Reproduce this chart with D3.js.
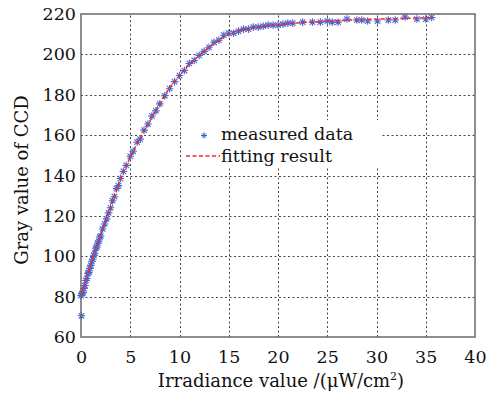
<!DOCTYPE html>
<html>
<head>
<meta charset="utf-8">
<script src="https://cdn.jsdelivr.net/npm/d3@7"></script>
<style>
  body { margin: 0; background: #fff; }
  svg text { font-family: "DejaVu Serif", "Liberation Serif", serif; fill: #111; }
</style>
</head>
<body>
<div id="chart"></div>
<script>
// measured points
const measX = [0, 0.05, 0.1, 0.2, 0.3, 0.4, 0.5, 0.6, 0.7, 0.8, 0.9, 1.0, 1.1, 1.2, 1.3, 1.4, 1.5, 1.6, 1.7, 1.8, 1.9, 2.0,
    2.2, 2.4, 2.6, 2.8, 3.0, 3.2, 3.4, 3.6, 3.8, 4.0, 4.3, 4.6, 5.0, 5.3, 5.7, 6.0, 6.4, 6.8, 7.2, 7.6, 8.0, 8.5,
    9.0, 9.5, 10.0, 10.5, 11.0, 11.5, 12.0, 12.5, 13.0, 13.5, 14.0, 14.5, 15.0, 15.5, 16.0, 16.5, 17.0, 17.5, 18.0,
    18.5, 19.0, 19.5, 20.0, 20.5, 21.0, 21.5, 22.5, 23.5, 24.3, 25.0, 25.5, 26.1, 27.0, 28.0, 28.5, 29.1, 30.1,
    31.2, 31.9, 32.9, 34.1, 35.0, 35.6];
const measY = [80.5, 70.5, 81.5, 82, 84, 85.5, 88, 89, 91.5, 92, 94, 95.5, 97.5, 98.5, 100.5, 101.5, 104, 104.5, 106.5, 107.5, 109.5, 110,
    113.5, 116, 118.5, 121.5, 124, 127.5, 129.5, 133.5, 135, 138.5, 142, 145, 149.5, 152, 156.5, 158, 162.5, 165.5, 169.5, 172, 175.5, 179.5,
    183, 186.5, 189.5, 192, 195.5, 197, 199.5, 201.5, 203.5, 206, 207, 209.5, 210.5, 210.5, 211.5, 212.5, 212.5, 213.5, 213.5,
    214, 214.5, 214.5, 214.5, 215, 215.5, 215.5, 216, 216, 216, 216.5, 216, 216, 217.5, 217, 217, 216.5, 216.5,
    217, 217, 218.5, 217.5, 217.5, 218.3];

// fitted curve
const fitX = [0, 0.5, 1, 1.5, 2, 2.5, 3, 3.5, 4, 4.5, 5, 5.5, 6, 6.5, 7, 7.5, 8, 8.5, 9, 9.5, 10, 10.5, 11, 11.5, 12,
    12.5, 13, 13.5, 14, 14.5, 15, 16, 17, 18, 19, 20, 22, 24, 26, 28, 30, 32, 34, 35.6];
const fitY = [80, 88, 96, 103.5, 110.5, 117.5, 124.5, 131.5, 138, 144, 149, 154, 158.5, 163, 167, 171.5, 175.5, 179.5, 183.5, 186.5, 189.5, 192.5, 195, 197.3, 199.5,
    201.5, 203.5, 205.3, 207, 208.5, 210, 211.8, 212.8, 213.6, 214.2, 214.7, 215.6, 216.2, 216.7, 217.1, 217.4, 217.7, 218, 218.2];

const xTicks = [0, 5, 10, 15, 20, 25, 30, 35, 40];
const yTicks = [60, 80, 100, 120, 140, 160, 180, 200, 220];

const width = 502, height = 396;
const margin = { top: 14, right: 27, bottom: 59, left: 81 };

const svg = d3.select('#chart')
    .append('svg')
    .attr('width', width)
    .attr('height', height);

const x = d3.scaleLinear().domain([0, 40]).range([margin.left, width - margin.right]);
const y = d3.scaleLinear().domain([60, 220]).range([height - margin.bottom, margin.top]);

// grid
const grid = svg.append('g')
    .attr('stroke', '#444')
    .attr('stroke-width', 1)
    .attr('stroke-dasharray', '2,2.5');

grid.selectAll('.gx')
    .data(xTicks.slice(1, -1))
    .enter()
    .append('line')
    .attr('x1', d => Math.round(x(d)) + 0.5)
    .attr('x2', d => Math.round(x(d)) + 0.5)
    .attr('y1', y(60))
    .attr('y2', y(220));

grid.selectAll('.gy')
    .data(yTicks.slice(1, -1))
    .enter()
    .append('line')
    .attr('y1', d => Math.round(y(d)) + 0.5)
    .attr('y2', d => Math.round(y(d)) + 0.5)
    .attr('x1', x(0))
    .attr('x2', x(40));

// axes (labels only, box drawn separately)
const xAxis = svg.append('g')
    .attr('transform', `translate(0,${y(60)})`)
    .call(d3.axisBottom(x).tickValues(xTicks).tickSize(0).tickPadding(14));
const yAxis = svg.append('g')
    .attr('transform', `translate(${x(0)},0)`)
    .call(d3.axisLeft(y).tickValues(yTicks).tickSize(0).tickPadding(5));

[xAxis, yAxis].forEach(a => {
    a.select('.domain').remove();
    a.selectAll('text')
        .style('font-family', '"DejaVu Serif", serif')
        .style('font-size', '17.5px')
        .attr('fill', '#111');
});

// legend background
const legend = svg.append('g');
legend.append('rect')
    .attr('x', 181)
    .attr('y', 120)
    .attr('width', 200)
    .attr('height', 47)
    .attr('fill', '#fff');

// star markers
function star(s) {
    return `M${-s},0L${s},0M0,${-s}L0,${s}M${-s * 0.72},${-s * 0.72}L${s * 0.72},${s * 0.72}M${-s * 0.72},${s * 0.72}L${s * 0.72},${-s * 0.72}`;
}

const pts = d3.range(measX.length).map(i => [measX[i], measY[i]]);

svg.append('g')
    .selectAll('path')
    .data(pts)
    .enter()
    .append('path')
    .attr('transform', d => `translate(${x(d[0])},${y(d[1])})`)
    .attr('d', star(3.8))
    .attr('stroke', '#4a68d0')
    .attr('stroke-width', 1.1)
    .attr('fill', 'none');

// fitted line
const line = d3.line()
    .x((d, i) => x(fitX[i]))
    .y((d, i) => y(fitY[i]))
    .curve(d3.curveMonotoneX);

svg.append('path')
    .datum(fitX)
    .attr('d', line)
    .attr('fill', 'none')
    .attr('stroke', '#f22')
    .attr('stroke-width', 1.5)
    .attr('stroke-dasharray', '4,2.5');

// box
svg.append('rect')
    .attr('x', x(0))
    .attr('y', y(220))
    .attr('width', x(40) - x(0))
    .attr('height', y(60) - y(220))
    .attr('fill', 'none')
    .attr('stroke', '#6a6a6a')
    .attr('stroke-width', 1.5);

// legend entries
legend.append('path')
    .attr('transform', 'translate(204,135.5)')
    .attr('d', star(3))
    .attr('stroke', '#3d5ccc')
    .attr('stroke-width', 1);
legend.append('text')
    .attr('x', 221)
    .attr('y', 140)
    .style('font-size', '17.5px')
    .text('measured data');
legend.append('line')
    .attr('x1', 186)
    .attr('x2', 220)
    .attr('y1', 156)
    .attr('y2', 156)
    .attr('stroke', '#f22')
    .attr('stroke-width', 1.4)
    .attr('stroke-dasharray', '4,2.5');
legend.append('text')
    .attr('x', 221)
    .attr('y', 162)
    .style('font-size', '17.5px')
    .text('fitting result');

// axis titles
const xt = svg.append('text')
    .attr('x', 281)
    .attr('y', 387)
    .attr('text-anchor', 'middle')
    .style('font-size', '18px')
    .text('Irradiance value /(μW/cm');
xt.append('tspan')
    .attr('dy', -7)
    .style('font-size', '11px')
    .text('2');
xt.append('tspan')
    .attr('dy', 7)
    .text(')');

svg.append('text')
    .attr('transform', 'translate(28,180) rotate(-90)')
    .attr('text-anchor', 'middle')
    .style('font-size', '18px')
    .text('Gray value of CCD');
</script>
</body>
</html>
